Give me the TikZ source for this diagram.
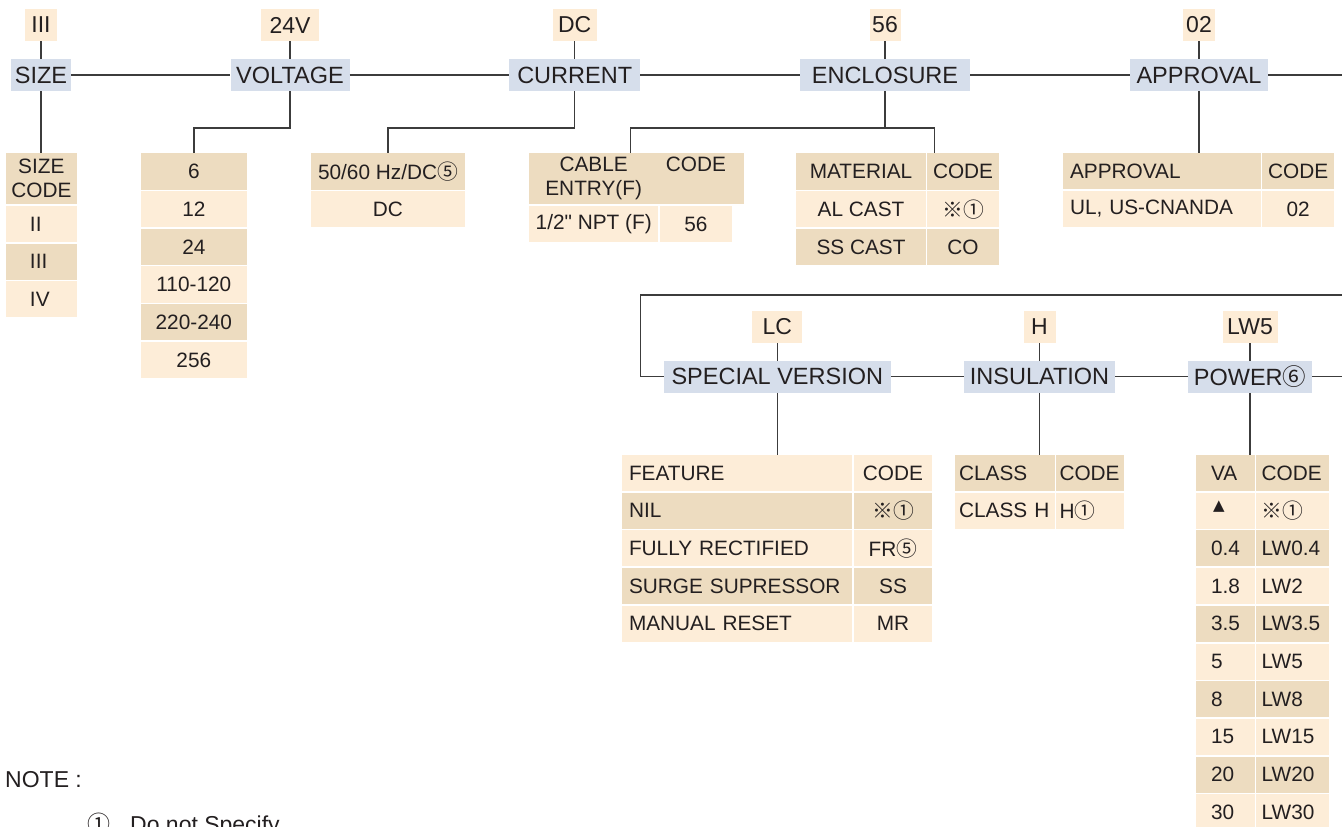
\documentclass[tikz,border=0pt]{standalone}
\usepackage{fontspec}
\setmainfont{Liberation Sans}[Ligatures=TeXOff]
\newfontfamily\cjk{Noto Sans CJK SC}
\newfontfamily\dvs{DejaVu Sans}
\definecolor{hdr}{HTML}{D6DEEB}
\definecolor{lbl}{HTML}{FDECD6}
\definecolor{dk}{HTML}{EDDCC0}
\definecolor{lt}{HTML}{FDEDD8}
\definecolor{ln}{HTML}{3C3C3C}
\definecolor{tx}{HTML}{231F20}
\newcommand{\cc}[1]{{\cjk #1}}
\newcommand{\cellC}[7]{\node[cellc, fill=#6, minimum width=#4pt, minimum height=#5pt] (#1) at ({#2+#4/2},{#3+#5/2}) {#7};}
\newcommand{\cellL}[8]{\node[cellc, fill=#6, minimum width=#4pt, minimum height=#5pt, text width=#8pt, align=left] (#1) at ({#2+#4/2},{#3+#5/2}) {#7};}
\tikzset{
  hdrbox/.style={fill=hdr, inner xsep=0pt, inner ysep=0pt, minimum height=32pt, font=\fontsize{23.5}{26}\selectfont, text=tx},
  lblbox/.style={fill=lbl, inner xsep=0pt, inner ysep=0pt, minimum height=32pt, font=\fontsize{23}{26}\selectfont, text=tx},
  conn/.style={draw=ln, line width=1.3pt},
  cellc/.style={inner sep=0pt, text=tx, font=\fontsize{20.8}{24}\selectfont, align=center},
  notetext/.style={inner sep=0pt, text=tx, font=\fontsize{23}{26}\selectfont},
}
\begin{document}
\begin{tikzpicture}[x=1pt,y=-1pt]
\useasboundingbox (0,0) rectangle (1342,827);
\fill[white] (0,0) rectangle (1342,827);
\clip (0,0) rectangle (1342,827);

% ---------- row 1 headers ----------
\node[hdrbox, minimum width=60pt]  (size) at (41,75) {SIZE};
\node[hdrbox, minimum width=119pt] (volt) at (290,75) {VOLTAGE};
\node[hdrbox, minimum width=131pt] (curr) at (574.7,75) {CURRENT};
\node[hdrbox, minimum width=170pt] (encl) at (885,75) {ENCLOSURE};
\node[hdrbox, minimum width=138pt] (appr) at (1199,75) {APPROVAL};
\coordinate (r1end) at (1342,75);

% ---------- row 1 labels ----------
\node[lblbox, minimum width=32pt] (kSize) at (41,25) {III};
\node[lblbox, minimum width=58pt] (kVolt) at (290,25) {24V};
\node[lblbox, minimum width=44pt] (kCurr) at (574.7,25) {DC};
\node[lblbox, minimum width=31pt] (kEncl) at (885,25) {56};
\node[lblbox, minimum width=32pt] (kAppr) at (1199,25) {02};

% ---------- row 2 ----------
\node[hdrbox, minimum width=227pt] (spec) at (777.3,376.7) {SPECIAL VERSION};
\node[hdrbox, minimum width=151pt] (insul) at (1039.5,376.7) {INSULATION};
\node[hdrbox, minimum width=124pt] (power) at (1250,376.7) {POWER\cc{⑥}};
\node[lblbox, minimum width=50pt] (kSpec) at (777.3,326.8) {LC};
\node[lblbox, minimum width=32pt] (kInsul) at (1039.5,326.8) {H};
\node[lblbox, minimum width=55pt] (kPower) at (1250,326.8) {LW5};
\coordinate (r2top) at (1342,295);
\coordinate (r2left) at (640.7,295);
\coordinate (r2end) at (1342,376.7);

% ---------- tables ----------
% size
\cellC{sz0}{6}{153.3}{70.7}{50.7}{dk}{SIZE\\CODE}
\cellL{sz1}{6}{206}{70.7}{36}{lt}{II}{22.7}
\cellL{sz2}{6}{243.5}{70.7}{36}{dk}{III}{22.7}
\cellL{sz3}{6}{281}{70.7}{36}{lt}{IV}{22.7}
% voltage
\cellC{v1}{140.7}{153.3}{106.3}{36.3}{dk}{6}
\cellC{v2}{140.7}{191}{106.3}{36.3}{lt}{12}
\cellC{v3}{140.7}{228.7}{106.3}{36.3}{dk}{24}
\cellC{v4}{140.7}{266.4}{106.3}{36.3}{lt}{110-120}
\cellC{v5}{140.7}{304.1}{106.3}{36.3}{dk}{220-240}
\cellC{v6}{140.7}{341.8}{106.3}{36.3}{lt}{256}
% current
\cellC{c1}{311}{153.3}{154}{36.3}{dk}{50/60 Hz/DC\cc{⑤}}
\cellC{c2}{311}{191}{154}{36.3}{lt}{DC}
% cable entry
\cellC{cabA}{529}{153.3}{129.4}{50.7}{dk}{CABLE\\ENTRY(F)}
\cellC{cabB}{660}{153.3}{71.8}{50.7}{dk}{CODE\\\phantom{ENTRY(F)}}
\cellC{cabA2}{529}{206}{129.4}{35.7}{lt}{1/2" NPT (F)}
\cellC{cabB2}{660}{206}{71.8}{35.7}{lt}{56}
% material
\cellC{matA}{796}{153.3}{130}{36.3}{dk}{MATERIAL}
\cellC{matC}{927.4}{153.3}{71.3}{36.3}{dk}{CODE}
\cellC{matA2}{796}{191}{130}{36.3}{lt}{AL CAST}
\cellC{matC2}{927.4}{191}{71.3}{36.3}{lt}{\cc{※①}}
\cellC{matA3}{796}{228.7}{130}{36.3}{dk}{SS CAST}
\cellC{matC3}{927.4}{228.7}{71.3}{36.3}{dk}{CO}
% approval
\cellL{apA}{1063}{152.7}{197.7}{36.3}{dk}{APPROVAL}{183.7}
\cellC{apB}{1262}{152.7}{72.3}{36.3}{dk}{CODE}
\cellL{apA2}{1063}{190.7}{197.7}{36.3}{lt}{UL, US-CNANDA}{183.7}
\cellC{apB2}{1262}{190.7}{72.3}{36.3}{lt}{02}
% special version
\cellL{sv1}{622}{455}{230}{36}{lt}{FEATURE}{216}
\cellC{svc1}{854}{455}{78}{36}{lt}{CODE}
\cellL{sv2}{622}{492.7}{230}{36}{dk}{NIL}{216}
\cellC{svc2}{854}{492.7}{78}{36}{dk}{\cc{※①}}
\cellL{sv3}{622}{530.4}{230}{36}{lt}{FULLY RECTIFIED}{216}
\cellC{svc3}{854}{530.4}{78}{36}{lt}{FR\cc{⑤}}
\cellL{sv4}{622}{568.1}{230}{36}{dk}{SURGE SUPRESSOR}{216}
\cellC{svc4}{854}{568.1}{78}{36}{dk}{SS}
\cellL{sv5}{622}{605.8}{230}{36}{lt}{MANUAL RESET}{216}
\cellC{svc5}{854}{605.8}{78}{36}{lt}{MR}
% class
\cellL{cl1}{955}{455}{100.3}{36}{dk}{CLASS}{92}
\cellL{clc1}{1056.3}{455}{67.4}{36}{dk}{CODE}{61}
\cellL{cl2}{955}{492.7}{100.3}{36}{lt}{CLASS\ H}{92}
\cellL{clc2}{1056.3}{492.7}{67.4}{36}{lt}{H\cc{①}}{61}
% power
\cellL{pw1}{1196}{455}{59}{36}{dk}{VA}{29}
\cellL{pwc1}{1256.3}{455}{72.7}{36}{dk}{CODE}{62}
\cellL{pw2}{1196}{492.7}{59}{36}{lt}{\hspace*{2pt}{\dvs\fontsize{15}{15}\selectfont\raisebox{0pt}[0pt][0pt]{▲}}}{29}
\cellL{pwc2}{1256.3}{492.7}{72.7}{36}{lt}{\cc{※①}}{62}
\cellL{pw3}{1196}{530.4}{59}{36}{dk}{0.4}{29}
\cellL{pwc3}{1256.3}{530.4}{72.7}{36}{dk}{LW0.4}{62}
\cellL{pw4}{1196}{568.1}{59}{36}{lt}{1.8}{29}
\cellL{pwc4}{1256.3}{568.1}{72.7}{36}{lt}{LW2}{62}
\cellL{pw5}{1196}{605.8}{59}{36}{dk}{3.5}{29}
\cellL{pwc5}{1256.3}{605.8}{72.7}{36}{dk}{LW3.5}{62}
\cellL{pw6}{1196}{643.5}{59}{36}{lt}{5}{29}
\cellL{pwc6}{1256.3}{643.5}{72.7}{36}{lt}{LW5}{62}
\cellL{pw7}{1196}{681.2}{59}{36}{dk}{8}{29}
\cellL{pwc7}{1256.3}{681.2}{72.7}{36}{dk}{LW8}{62}
\cellL{pw8}{1196}{718.9}{59}{36}{lt}{15}{29}
\cellL{pwc8}{1256.3}{718.9}{72.7}{36}{lt}{LW15}{62}
\cellL{pw9}{1196}{756.6}{59}{36}{dk}{20}{29}
\cellL{pwc9}{1256.3}{756.6}{72.7}{36}{dk}{LW20}{62}
\cellL{pw10}{1196}{794.3}{59}{36}{lt}{30}{29}
\cellL{pwc10}{1256.3}{794.3}{72.7}{36}{lt}{LW30}{62}

% ---------- connectors ----------
\draw[conn] (size) -- (volt);
\draw[conn] (volt) -- (curr);
\draw[conn] (curr) -- (encl);
\draw[conn] (encl) -- (appr);
\draw[conn] (appr) -- (r1end);
\draw[conn] (kSize) -- (size);
\draw[conn] (kVolt) -- (volt);
\draw[conn] (kCurr) -- (curr);
\draw[conn] (kEncl) -- (encl);
\draw[conn] (kAppr) -- (appr);

\draw[conn] (size.south) -- (size.south |- sz0.north);
\draw[conn] (volt.south) -- ++(0,36.7) -| (v1.north);
\draw[conn] (curr.south) -- ++(0,36.7) -| (c1.north);
\draw[conn] (encl.south) -- ++(0,36.7) coordinate (ej);
\draw[conn] ([xshift=101.5pt]cabA.north west) |- (ej) -| ([xshift=7.2pt]matC.north west);
\draw[conn] (appr.south) -- (appr.south |- apA.north);

\draw[conn] (r2top) -- (r2left) |- (spec);
\draw[conn] (spec) -- (insul);
\draw[conn] (insul) -- (power);
\draw[conn] (power) -- (r2end);
\draw[conn] (kSpec) -- (spec);
\draw[conn] (kInsul) -- (insul);
\draw[conn] (kPower) -- (power);
\draw[conn] (spec.south) -- (spec.south |- sv1.north);
\draw[conn] (insul.south) -- (insul.south |- cl1.north);
\draw[conn] (power.south) -- (power.south |- pw1.north);

% ---------- note ----------
\node[notetext, anchor=west] (note) at (5,780) {NOTE :};
\node[notetext, anchor=base west] (n1num) at (87,832) {\cc{①}};
\node[notetext, anchor=base west] (n1txt) at (130,832) {Do not Specify};
\end{tikzpicture}
\end{document}
